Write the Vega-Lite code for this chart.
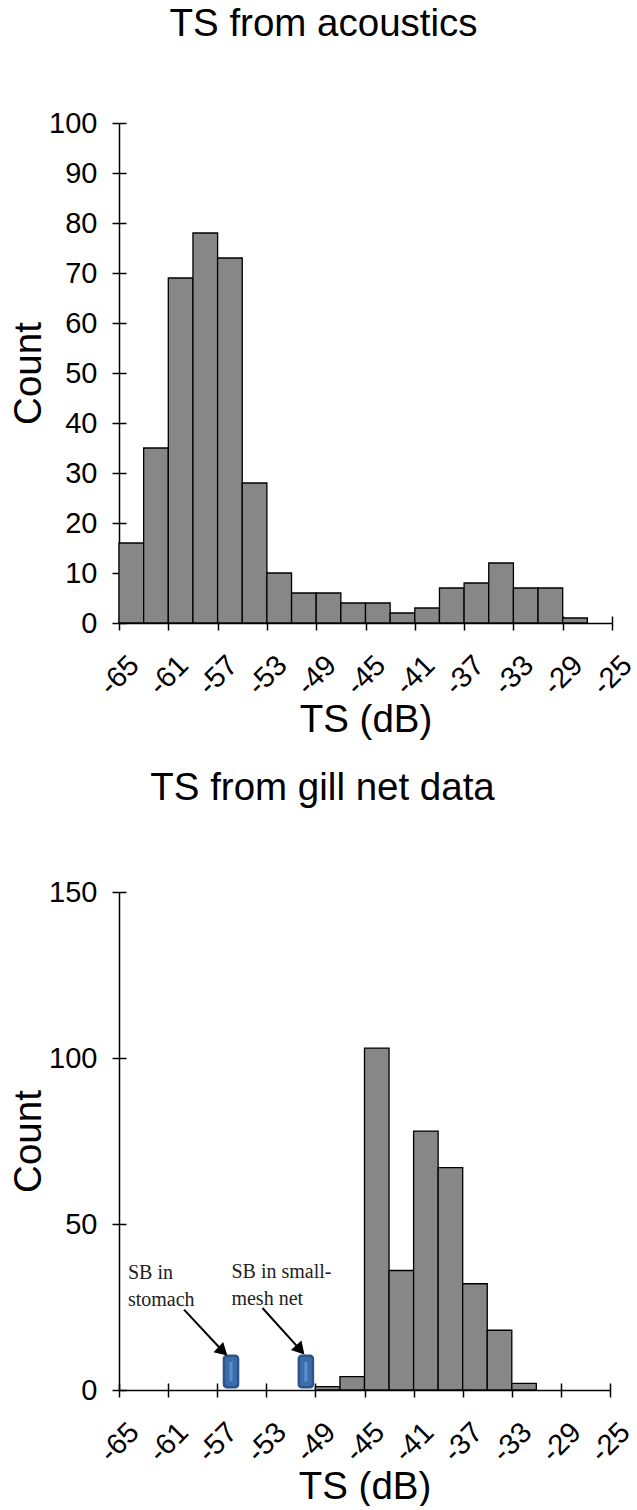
{
  "$schema": "https://vega.github.io/schema/vega-lite/v6.json",
  "background": "white",
  "padding": {"left": 9, "top": 4, "right": 0, "bottom": 0},
  "spacing": 29,
  "config": {
    "view": {"stroke": null},
    "axis": {
      "grid": false,
      "domainColor": "black",
      "domainWidth": 1.5,
      "tickColor": "black",
      "tickWidth": 1.5,
      "labelFont": "Liberation Sans",
      "labelFontSize": 29,
      "labelColor": "black",
      "titleFont": "Liberation Sans",
      "titleFontSize": 38.5,
      "titleFontWeight": "normal",
      "titleColor": "black"
    },
    "title": {"font": "Liberation Sans", "fontSize": 38.5, "fontWeight": "normal", "color": "black"}
  },
  "datasets": {
    "acoustic": [
      {"lo": -65, "hi": -63, "count": 16},
      {"lo": -63, "hi": -61, "count": 35},
      {"lo": -61, "hi": -59, "count": 69},
      {"lo": -59, "hi": -57, "count": 78},
      {"lo": -57, "hi": -55, "count": 73},
      {"lo": -55, "hi": -53, "count": 28},
      {"lo": -53, "hi": -51, "count": 10},
      {"lo": -51, "hi": -49, "count": 6},
      {"lo": -49, "hi": -47, "count": 6},
      {"lo": -47, "hi": -45, "count": 4},
      {"lo": -45, "hi": -43, "count": 4},
      {"lo": -43, "hi": -41, "count": 2},
      {"lo": -41, "hi": -39, "count": 3},
      {"lo": -39, "hi": -37, "count": 7},
      {"lo": -37, "hi": -35, "count": 8},
      {"lo": -35, "hi": -33, "count": 12},
      {"lo": -33, "hi": -31, "count": 7},
      {"lo": -31, "hi": -29, "count": 7},
      {"lo": -29, "hi": -27, "count": 1}
    ],
    "gillnet": [
      {"lo": -49, "hi": -47, "count": 1},
      {"lo": -47, "hi": -45, "count": 4},
      {"lo": -45, "hi": -43, "count": 103},
      {"lo": -43, "hi": -41, "count": 36},
      {"lo": -41, "hi": -39, "count": 78},
      {"lo": -39, "hi": -37, "count": 67},
      {"lo": -37, "hi": -35, "count": 32},
      {"lo": -35, "hi": -33, "count": 18},
      {"lo": -33, "hi": -31, "count": 2}
    ],
    "markers": [
      {"name": "SB in stomach", "lo": -56.45, "hi": -55.3, "mid": -55.875, "ylo": 0.8, "yhi": 10.3, "slo": 2.6, "shi": 8.5},
      {"name": "SB in small-mesh net", "lo": -50.35, "hi": -49.2, "mid": -49.775, "ylo": 0.8, "yhi": 10.3, "slo": 2.6, "shi": 8.5}
    ],
    "arrows": [
      {"x": -59.7, "y": 24.2, "x2": -56.54, "y2": 11.66, "angle": 133},
      {"x": -53.31, "y": 24.7, "x2": -50.23, "y2": 12.08, "angle": 138}
    ],
    "notes": [
      {"label": "SB in", "x": -64.27, "y": 33.3},
      {"label": "stomach", "x": -64.27, "y": 25.3},
      {"label": "SB in small-", "x": -55.84, "y": 33.8},
      {"label": "mesh net", "x": -55.84, "y": 25.6}
    ]
  },
  "vconcat": [
    {
      "title": {"text": "TS from acoustics", "offset": 65, "anchor": "middle", "frame": "bounds"},
      "width": 493,
      "height": 500,
      "data": {"name": "acoustic"},
      "layer": [
        {
          "mark": {"type": "bar", "fill": "#878787", "stroke": "black", "strokeWidth": 1.3},
          "encoding": {
            "x": {"field": "lo", "type": "quantitative",
              "scale": {"domain": [-65, -25], "nice": false, "zero": false},
              "axis": {"orient": "bottom", "values": [-65, -61, -57, -53, -49, -45, -41, -37, -33, -29, -25],
                "labelExpr": "'' + datum.value", "labelAngle": -45, "labelAlign": "center", "labelBaseline": "middle",
                "labelPadding": 45, "tickSize": 7, "labelFlush": false, "labelOverlap": false,
                "title": "TS (dB)", "titlePadding": 1}},
            "x2": {"field": "hi"},
            "y": {"field": "count", "type": "quantitative",
              "scale": {"domain": [0, 100], "nice": false},
              "axis": {"orient": "left", "values": [0, 10, 20, 30, 40, 50, 60, 70, 80, 90, 100],
                "tickSize": 7, "labelPadding": 15, "title": "Count", "titlePadding": 0}},
            "y2": {"datum": 0}
          }
        },
        {
          "mark": {"type": "bar", "opacity": 0},
          "encoding": {
            "x": {"field": "lo", "type": "quantitative",
              "axis": {"orient": "bottom", "values": [-65, -61, -57, -53, -49, -45, -41, -37, -33, -29, -25],
                "tickSize": -7, "labels": false, "domain": false, "title": null}},
            "x2": {"field": "hi"},
            "y": {"field": "count", "type": "quantitative",
              "axis": {"orient": "left", "values": [0, 10, 20, 30, 40, 50, 60, 70, 80, 90, 100],
                "tickSize": -7, "labels": false, "domain": false, "title": null}},
            "y2": {"datum": 0}
          }
        }
      ],
      "resolve": {"axis": {"x": "independent", "y": "independent"}}
    },
    {
      "title": {"text": "TS from gill net data", "offset": 70, "anchor": "middle", "frame": "bounds"},
      "width": 491,
      "height": 498,
      "layer": [
        {
          "data": {"name": "gillnet"},
          "mark": {"type": "bar", "fill": "#878787", "stroke": "black", "strokeWidth": 1.3},
          "encoding": {
            "x": {"field": "lo", "type": "quantitative",
              "scale": {"domain": [-65, -25], "nice": false, "zero": false},
              "axis": {"orient": "bottom", "values": [-65, -61, -57, -53, -49, -45, -41, -37, -33, -29, -25],
                "labelExpr": "'' + datum.value", "labelAngle": -45, "labelAlign": "center", "labelBaseline": "middle",
                "labelPadding": 45, "tickSize": 7, "labelFlush": false, "labelOverlap": false,
                "title": "TS (dB)", "titlePadding": 1}},
            "x2": {"field": "hi"},
            "y": {"field": "count", "type": "quantitative",
              "scale": {"domain": [0, 150], "nice": false},
              "axis": {"orient": "left", "values": [0, 50, 100, 150],
                "tickSize": 7, "labelPadding": 15, "title": "Count", "titlePadding": 0}},
            "y2": {"datum": 0}
          }
        },
        {
          "data": {"name": "gillnet"},
          "mark": {"type": "bar", "opacity": 0},
          "encoding": {
            "x": {"field": "lo", "type": "quantitative",
              "axis": {"orient": "bottom", "values": [-65, -61, -57, -53, -49, -45, -41, -37, -33, -29, -25],
                "tickSize": -7, "labels": false, "domain": false, "title": null}},
            "x2": {"field": "hi"},
            "y": {"field": "count", "type": "quantitative",
              "axis": {"orient": "left", "values": [0, 50, 100, 150],
                "tickSize": -7, "labels": false, "domain": false, "title": null}},
            "y2": {"datum": 0}
          }
        },
        {
          "data": {"name": "markers"},
          "mark": {"type": "bar", "fill": "#3d6cab", "stroke": "#2b5488", "strokeWidth": 2.5, "cornerRadius": 3},
          "encoding": {
            "x": {"field": "lo", "type": "quantitative", "axis": null},
            "x2": {"field": "hi"},
            "y": {"field": "ylo", "type": "quantitative", "axis": null},
            "y2": {"field": "yhi"}
          }
        },
        {
          "data": {"name": "markers"},
          "mark": {"type": "rule", "stroke": "#5b8ed0", "strokeWidth": 3},
          "encoding": {
            "x": {"field": "mid", "type": "quantitative", "axis": null},
            "y": {"field": "slo", "type": "quantitative", "axis": null},
            "y2": {"field": "shi"}
          }
        },
        {
          "data": {"name": "arrows"},
          "mark": {"type": "rule", "stroke": "black", "strokeWidth": 2},
          "encoding": {
            "x": {"field": "x", "type": "quantitative", "axis": null},
            "y": {"field": "y", "type": "quantitative", "axis": null},
            "x2": {"field": "x2"},
            "y2": {"field": "y2"}
          }
        },
        {
          "data": {"name": "arrows"},
          "mark": {"type": "point", "shape": "triangle-up", "filled": true, "fill": "black", "opacity": 1, "size": 200},
          "encoding": {
            "x": {"field": "x2", "type": "quantitative", "axis": null},
            "y": {"field": "y2", "type": "quantitative", "axis": null},
            "angle": {"field": "angle", "type": "quantitative", "scale": null}
          }
        },
        {
          "data": {"name": "notes"},
          "mark": {"type": "text", "font": "Liberation Serif", "fontSize": 20, "align": "left", "baseline": "alphabetic", "color": "#222222"},
          "encoding": {
            "x": {"field": "x", "type": "quantitative", "axis": null},
            "y": {"field": "y", "type": "quantitative", "axis": null},
            "text": {"field": "label"}
          }
        }
      ],
      "resolve": {"axis": {"x": "independent", "y": "independent"}}
    }
  ]
}
